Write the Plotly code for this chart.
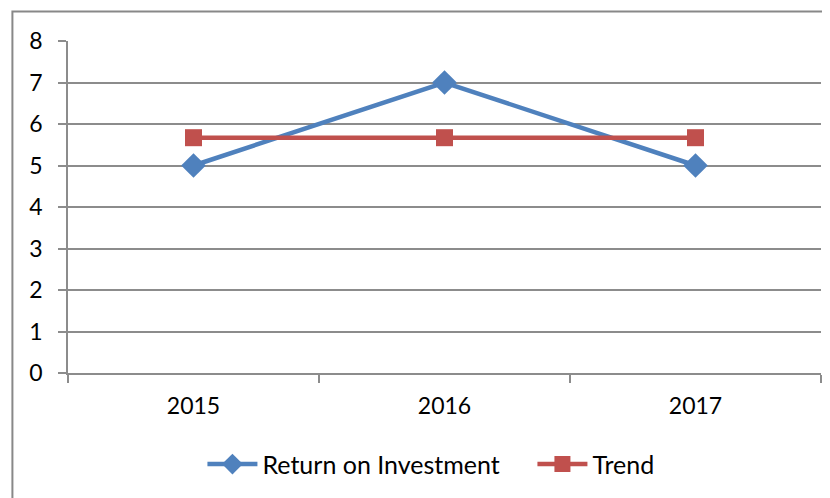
import plotly.graph_objects as go

categories = ["2015", "2016", "2017"]
roi = [5, 7, 5]
trend = [5.67, 5.67, 5.67]
y_ticks = [0, 1, 2, 3, 4, 5, 6, 7, 8]

FONT = "Lato"
GRID = "#8c8c8c"
OFF = 8  # page body margin

fig = go.Figure()
fig.add_trace(go.Scatter(
    x=categories, y=roi, name="Return on Investment", mode="lines+markers",
    line=dict(color="#4F81BD", width=4.5),
    marker=dict(symbol="diamond", size=19, color="#4F81BD"),
))
fig.add_trace(go.Scatter(
    x=categories, y=trend, name="Trend", mode="lines+markers",
    line=dict(color="#C0504D", width=4.5),
    marker=dict(symbol="square", size=17, color="#C0504D"),
))

fig.update_layout(
    width=830 - OFF, height=498 - OFF,
    margin=dict(l=68 - OFF, r=17 - OFF, t=40.5 - OFF, b=124.5, autoexpand=False),
    paper_bgcolor="white", plot_bgcolor="white",
    font=dict(family=FONT, size=22, color="black"),
    showlegend=True,
    legend=dict(orientation="h", x=(201 - 68) / 745, xanchor="left", y=-0.275, yanchor="middle",
                font=dict(family=FONT, size=25), itemwidth=50, entrywidth=265),
    xaxis=dict(type="category", range=[-0.5, 2.5], showgrid=False,
               showline=True, linecolor=GRID, linewidth=1.5,
               ticks="outside", tickson="boundaries", ticklen=8, tickcolor=GRID, tickwidth=1.5,
               ticklabelstandoff=12,
               tickfont=dict(family=FONT, size=23), zeroline=False),
    yaxis=dict(range=[0, 8], tickvals=y_ticks, showgrid=True, gridcolor=GRID, gridwidth=1.5,
               showline=True, linecolor=GRID, linewidth=1.5,
               ticks="outside", ticklen=8, tickcolor=GRID, tickwidth=1.5,
               ticklabelstandoff=11,
               tickfont=dict(family=FONT, size=23), zeroline=False),
)

fig.add_shape(type="rect", xref="paper", yref="paper",
              x0=(13 - 68) / 745, x1=1.2, y0=-0.6, y1=(373.5 - 11) / 333,
              line=dict(color="#888888", width=2), layer="below")

fig.write_html("out.html")
